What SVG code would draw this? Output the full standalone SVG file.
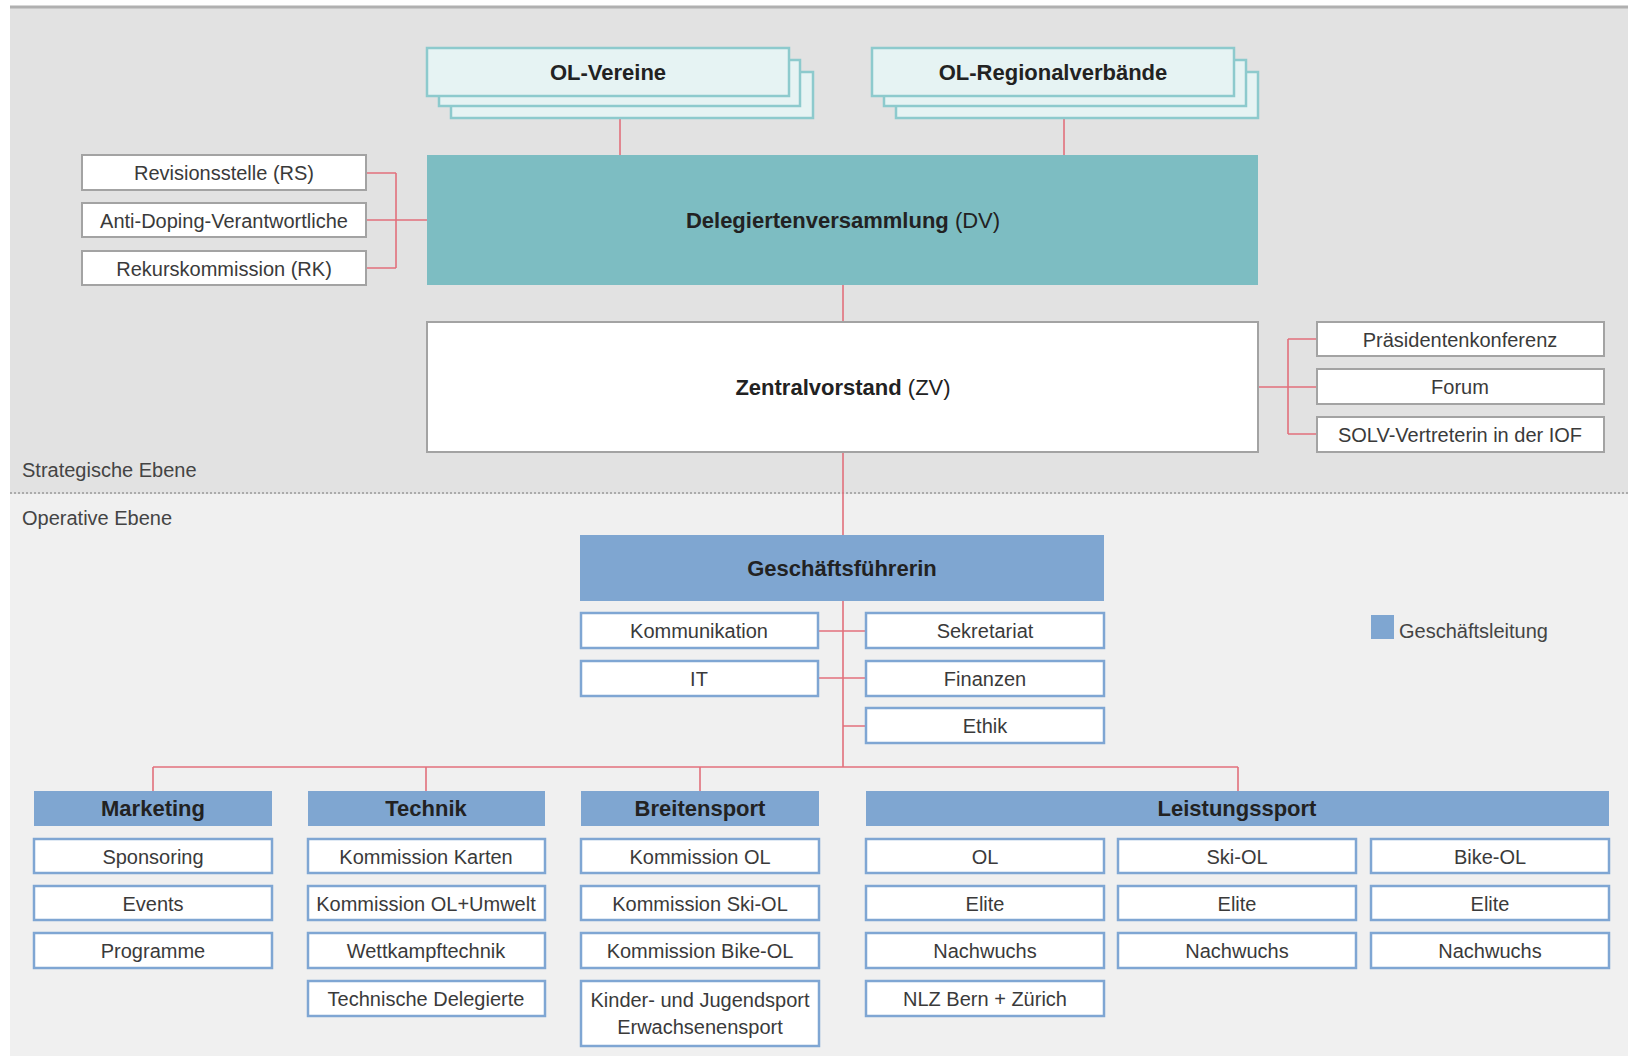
<svg xmlns="http://www.w3.org/2000/svg" width="1628" height="1056" viewBox="0 0 1628 1056">
<style>
text{font-family:"Liberation Sans",Arial,sans-serif;fill:#3a3a3a;font-size:20px;text-anchor:middle}
.b{font-weight:bold;font-size:22px;fill:#222}
.r{font-weight:normal}
.lbl{text-anchor:start;fill:#444}
.gray{fill:#fff;stroke:#a3a3a3;stroke-width:2}
.blue{fill:#fff;stroke:#7fa6d3;stroke-width:2.5}
.head{fill:#7fa6d1}
.stack{fill:#e6f3f3;stroke:#8dcacd;stroke-width:2.5}
.dv{fill:#7dbdc2}
.con{fill:none;stroke:#e2707c;stroke-width:1.6}
</style>
<rect x="0" y="0" width="1628" height="1056" fill="#fff"/>
<rect x="10" y="8" width="1618" height="486" fill="#e2e2e2"/>
<rect x="10" y="494" width="1618" height="562" fill="#f0f0f0"/>
<line x1="10" y1="7" x2="1628" y2="7" stroke="#b0b0b0" stroke-width="3"/>
<line x1="10" y1="493" x2="1628" y2="493" stroke="#ababab" stroke-width="2" stroke-dasharray="2 2"/>
<text class="lbl" x="22" y="477">Strategische Ebene</text>
<text class="lbl" x="22" y="525">Operative Ebene</text>

<g id="connectors">
<path class="con" d="M620 118V155M1064 118V155"/>
<path class="con" d="M366 173H396M366 220H427M366 268H396M396 173V268"/>
<path class="con" d="M843 285V322M843 452V535M843 601V767"/>
<path class="con" d="M1258 387H1288M1288 339V434M1288 339H1317M1288 387H1317M1288 434H1317"/>
<path class="con" d="M818 631H866M818 678H866M843 726H866"/>
<path class="con" d="M153 767H1238M153 767V791M426 767V791M700 767V791M1238 767V791"/>
</g>

<g id="ol-vereine">
<rect class="stack" x="451" y="72" width="362" height="46"/>
<rect class="stack" x="439" y="60" width="361" height="46"/>
<rect class="stack" x="427" y="48" width="362" height="48"/>
<text class="b" x="608" y="80">OL-Vereine</text>
</g>
<g id="ol-regionalverbaende">
<rect class="stack" x="896" y="72" width="362" height="46"/>
<rect class="stack" x="884" y="60" width="362" height="46"/>
<rect class="stack" x="872" y="48" width="362" height="48"/>
<text class="b" x="1053" y="80">OL-Regionalverbände</text>
</g>

<g id="dv">
<rect class="dv" x="427" y="155" width="831" height="130"/>
<text class="b" x="843" y="228">Delegiertenversammlung<tspan class="r"> (DV)</tspan></text>
</g>
<g id="rs"><rect class="gray" x="82" y="155" width="284" height="35"/><text x="224" y="180">Revisionsstelle (RS)</text></g>
<g id="antidoping"><rect class="gray" x="82" y="203" width="284" height="34"/><text x="224" y="228">Anti-Doping-Verantwortliche</text></g>
<g id="rk"><rect class="gray" x="82" y="251" width="284" height="34"/><text x="224" y="276">Rekurskommission (RK)</text></g>

<g id="zv">
<rect class="gray" x="427" y="322" width="831" height="130"/>
<text class="b" x="843" y="395">Zentralvorstand<tspan class="r"> (ZV)</tspan></text>
</g>
<g id="praesidentenkonferenz"><rect class="gray" x="1317" y="322" width="287" height="34"/><text x="1460" y="347">Präsidentenkonferenz</text></g>
<g id="forum"><rect class="gray" x="1317" y="369" width="287" height="35"/><text x="1460" y="394">Forum</text></g>
<g id="solv-iof"><rect class="gray" x="1317" y="417" width="287" height="35"/><text x="1460" y="442">SOLV-Vertreterin in der IOF</text></g>

<g id="geschaeftsfuehrerin">
<rect class="head" x="580" y="535" width="524" height="66"/>
<text class="b" x="842" y="576">Geschäftsführerin</text>
</g>
<g id="kommunikation"><rect class="blue" x="581" y="613" width="237" height="35"/><text x="699" y="638">Kommunikation</text></g>
<g id="it"><rect class="blue" x="581" y="661" width="237" height="35"/><text x="699" y="686">IT</text></g>
<g id="sekretariat"><rect class="blue" x="866" y="613" width="238" height="35"/><text x="985" y="638">Sekretariat</text></g>
<g id="finanzen"><rect class="blue" x="866" y="661" width="238" height="35"/><text x="985" y="686">Finanzen</text></g>
<g id="ethik"><rect class="blue" x="866" y="708" width="238" height="35"/><text x="985" y="733">Ethik</text></g>

<g id="legend">
<rect class="head" x="1371" y="615" width="23" height="24"/>
<text class="lbl" x="1399" y="638">Geschäftsleitung</text>
</g>

<g id="marketing">
<rect class="head" x="34" y="791" width="238" height="35"/><text class="b" x="153" y="816">Marketing</text>
</g>
<g id="sponsoring"><rect class="blue" x="34" y="839" width="238" height="34"/><text x="153" y="864">Sponsoring</text></g>
<g id="events"><rect class="blue" x="34" y="886" width="238" height="34"/><text x="153" y="911">Events</text></g>
<g id="programme"><rect class="blue" x="34" y="933" width="238" height="35"/><text x="153" y="958">Programme</text></g>

<g id="technik">
<rect class="head" x="308" y="791" width="237" height="35"/><text class="b" x="426" y="816">Technik</text>
</g>
<g id="kommission-karten"><rect class="blue" x="308" y="839" width="237" height="34"/><text x="426" y="864">Kommission Karten</text></g>
<g id="kommission-ol-umwelt"><rect class="blue" x="308" y="886" width="237" height="34"/><text x="426" y="911">Kommission OL+Umwelt</text></g>
<g id="wettkampftechnik"><rect class="blue" x="308" y="933" width="237" height="35"/><text x="426" y="958">Wettkampftechnik</text></g>
<g id="technische-delegierte"><rect class="blue" x="308" y="981" width="237" height="35"/><text x="426" y="1006">Technische Delegierte</text></g>

<g id="breitensport">
<rect class="head" x="581" y="791" width="238" height="35"/><text class="b" x="700" y="816">Breitensport</text>
</g>
<g id="kommission-ol"><rect class="blue" x="581" y="839" width="238" height="34"/><text x="700" y="864">Kommission OL</text></g>
<g id="kommission-ski-ol"><rect class="blue" x="581" y="886" width="238" height="34"/><text x="700" y="911">Kommission Ski-OL</text></g>
<g id="kommission-bike-ol"><rect class="blue" x="581" y="933" width="238" height="35"/><text x="700" y="958">Kommission Bike-OL</text></g>
<g id="kinder-jugendsport"><rect class="blue" x="581" y="981" width="238" height="65"/><text x="700" y="1007">Kinder- und Jugendsport</text><text x="700" y="1034">Erwachsenensport</text></g>

<g id="leistungssport">
<rect class="head" x="866" y="791" width="743" height="35"/><text class="b" x="1237" y="816">Leistungssport</text>
</g>
<g id="ls-ol"><rect class="blue" x="866" y="839" width="238" height="34"/><text x="985" y="864">OL</text></g>
<g id="ls-ol-elite"><rect class="blue" x="866" y="886" width="238" height="34"/><text x="985" y="911">Elite</text></g>
<g id="ls-ol-nachwuchs"><rect class="blue" x="866" y="933" width="238" height="35"/><text x="985" y="958">Nachwuchs</text></g>
<g id="nlz"><rect class="blue" x="866" y="981" width="238" height="35"/><text x="985" y="1006">NLZ Bern + Zürich</text></g>
<g id="ls-ski-ol"><rect class="blue" x="1118" y="839" width="238" height="34"/><text x="1237" y="864">Ski-OL</text></g>
<g id="ls-ski-elite"><rect class="blue" x="1118" y="886" width="238" height="34"/><text x="1237" y="911">Elite</text></g>
<g id="ls-ski-nachwuchs"><rect class="blue" x="1118" y="933" width="238" height="35"/><text x="1237" y="958">Nachwuchs</text></g>
<g id="ls-bike-ol"><rect class="blue" x="1371" y="839" width="238" height="34"/><text x="1490" y="864">Bike-OL</text></g>
<g id="ls-bike-elite"><rect class="blue" x="1371" y="886" width="238" height="34"/><text x="1490" y="911">Elite</text></g>
<g id="ls-bike-nachwuchs"><rect class="blue" x="1371" y="933" width="238" height="35"/><text x="1490" y="958">Nachwuchs</text></g>
</svg>
